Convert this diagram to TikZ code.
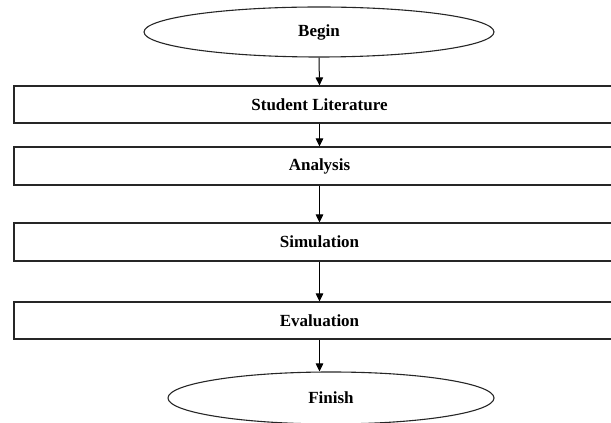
\documentclass[tikz,border=0pt]{standalone}
\usepackage{fontspec}
\setmainfont{Liberation Serif}
\usetikzlibrary{shapes.geometric,arrows.meta}
\begin{document}
\begin{tikzpicture}[x=1pt,y=1pt,
  every node/.style={font=\fontsize{17}{20}\selectfont\bfseries, inner sep=0pt},
  oval/.style={draw=black!85, line width=1.1pt, ellipse},
  stepbox/.style={draw=black!85, line width=1.1pt, rectangle, minimum width=611pt},
  arr/.style={draw=black, line width=1pt, -{Triangle[length=8pt,width=7.5pt]}}]
\useasboundingbox (0,0) rectangle (611,423);
\node[oval, minimum width=350pt, minimum height=50pt] (b) at (319,391) {Begin};
\node[stepbox, minimum height=37pt] (s1) at (319.5,318.5) {Student Literature};
\node[stepbox, minimum height=38pt] (s2) at (319.5,257) {Analysis};
\node[stepbox, minimum height=38pt] (s3) at (319.5,181) {Simulation};
\node[stepbox, minimum height=37pt] (s4) at (319.5,102.5) {Evaluation};
\node[oval, minimum width=326pt, minimum height=52pt] (f) at (331,25) {Finish};
\draw[arr] (b.south) -- (s1.north);
\draw[arr] (s1.south) -- (s2.north);
\draw[arr] (s2.south) -- (s3.north);
\draw[arr] (s3.south) -- (s4.north);
\draw[arr] (s4.south) -- (s4.south |- f.north);
\end{tikzpicture}
\end{document}
